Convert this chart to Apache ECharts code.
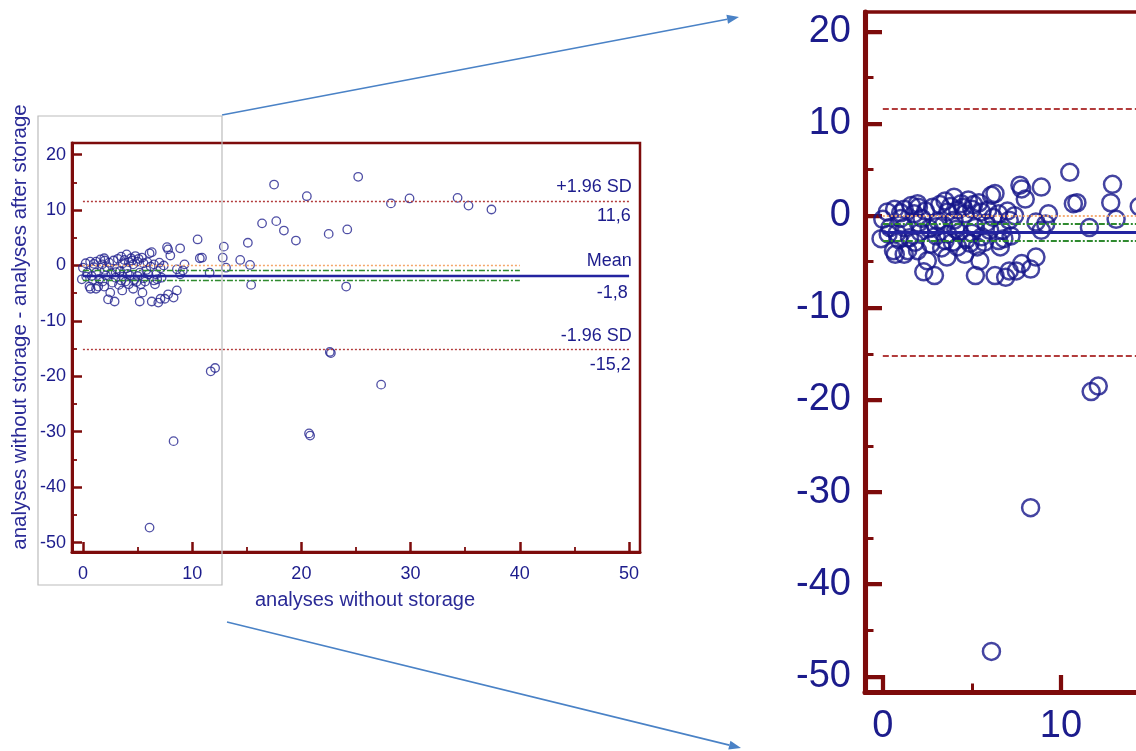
<!DOCTYPE html>
<html>
<head>
<meta charset="utf-8">
<script src="https://cdn.jsdelivr.net/npm/echarts@6/dist/echarts.min.js"></script>
<style>
html, body { margin: 0; padding: 0; background: #fff; }
#main { width: 1136px; height: 751px; }
</style>
</head>
<body>
<div id="main"></div>
<script>
// values (x = analyses without storage, y = difference)
var meanX = [-0.1, 0.0, 0.25, 0.4, 0.6, 0.66, 0.7, 0.8, 1.0, 1.2, 1.2, 1.2, 1.4, 1.6, 1.5, 1.76, 1.95, 1.95, 2.0, 2.1,
  2.3, 2.5, 2.4, 2.7, 2.9, 3.0, 3.1, 3.3, 3.5, 3.5, 3.65, 3.65, 3.6, 3.8, 4.0, 4.0, 4.1, 4.2, 4.4, 4.6,
  4.6, 4.7, 4.8, 5.0, 5.0, 5.2, 5.2, 5.3, 5.45, 5.4, 5.55, 5.55, 5.8, 6.0, 6.1, 6.3, 6.3, 6.5, 6.5, 6.6,
  6.7, 6.9, 7.1, 7.1, 7.2, 7.4, 7.5, 7.7, 7.8, 7.8, 8.0, 8.3, 8.6, 8.6, 8.9, 8.9, 9.15, 9.3,
  0.3, 0.9, 1.8, 2.2, 2.6, 2.8, 3.2, 3.4, 3.9, 4.3, 4.5, 4.9, 5.1, 5.7, 5.9, 6.2, 6.8, 7.0, 1.0, 2.0, 3.0, 4.2,
  10.5, 10.7, 10.9, 11.6, 12.8, 12.9, 13.1, 14.4, 15.1, 15.3, 15.4, 16.4, 17.5, 17.7, 18.4, 19.5, 20.5, 22.5,
  24.1, 24.2, 25.2, 28.2, 29.9, 34.3, 35.3, 37.4,
  6.1, 8.3, 11.7, 12.1, 20.7, 20.8, 22.6, 22.7, 27.3];
var diffY = [-2.5, -0.4, 0.4, -1.3, -3.8, 0.7, -4.2, -1.9, -0.3, 0.7, -1.3, -4.2, -3.8, 1.1, -2.4, 0.2, 1.3, -3.8, -0.8, -1.8,
  -6.1, -4.9, 0.5, -3.1, -6.5, -2.2, -0.6, -3.5, 1.6, -2.7, 0.4, -2.0, -4.5, 1.0, 2.0, -0.5, -1.5, -3.4, 1.3, 0.2,
  -4.2, -2.6, 1.7, 0.7, -1.9, -1.3, -6.5, -3.4, -4.9, 1.4, 0.4, -2.3, -0.8, -1.6, 2.2, 2.4, -6.5, 0.2, -2.7, -3.4,
  -1.6, -6.7, -0.5, -6.0, -2.2, 0.0, -6.0, 3.3, 2.9, -5.2, 1.8, -5.8, -0.7, -4.5, 3.1, -1.6, -0.9, 0.2,
  -2.0, -2.6, -2.9, -0.3, -1.4, 0.9, 1.2, -1.0, -2.9, -1.8, 0.9, -3.0, 1.2, -2.9, 0.6, -0.2, -2.5, 0.5, 0.3, 0.9, -1.2, 0.6,
  4.7, 1.3, 1.4, -1.3, 1.4, 3.4, -0.4, 1.0, 4.1, 0.1, -3.5, 7.6, 14.6, 8.0, 6.3, 4.5, 12.5, 5.7,
  -3.8, 6.5, 16.0, 11.2, 12.1, 12.2, 10.8, 10.1,
  -47.3, -31.7, -19.1, -18.5, -30.3, -30.7, -15.6, -15.8, -21.5];

var xTicks = [0, 10, 20, 30, 40, 50];
var xMinorTicks = [5, 15, 25, 35, 45];
var yTicks = [-50, -40, -30, -20, -10, 0, 10, 20];
var yMinorTicks = [-45, -35, -25, -15, -5, 5, 15];

var upperLimit = 11.6, meanDiff = -1.8, lowerLimit = -15.2;
var limitTitles = ['+1.96 SD', 'Mean', '-1.96 SD'];
var limitTexts = ['11,6', '-1,8', '-15,2'];
var meanCI = [-0.9, -2.7];
var equality = 0;
var limitSpan = [0, 50];
var labelSpan = [0, 50.7];
var ciSpan = [0, 40];

var xRange = [-1, 51];
var yRange = [-51.7, 22.1];

var red = '#7d0b0b';
var navy = '#1c1c8c';
var font = 'Liberation Sans, Arial, sans-serif';

var points = meanX.map(function (x, i) { return [x, diffY[i]]; });

function hLine(v, span, style, label) {
  var a = { coord: [span[0], v], lineStyle: style };
  if (label) a.label = label;
  return [a, { coord: [span[1], v] }];
}

function makeMarkLines(s, withLabels) {
  var lab = function (txt, pos, d) {
    return { show: withLabels, position: pos, formatter: txt, color: navy, fontSize: 18, fontFamily: font, distance: d };
  };
  var hidden = { color: 'rgba(0,0,0,0)', width: 0 };
  var sdStyle = { color: '#b23c3c', type: s > 1 ? [6, 3] : [2, 2], width: 1.4 * s };
  var lines = [
    hLine(equality, ciSpan, { color: '#f4a66a', type: [2, 2], width: 1.4 * s }),
    hLine(meanCI[0], ciSpan, { color: '#2f8a2f', type: [6, 2, 2, 2], width: 1.4 * s }),
    hLine(meanCI[1], ciSpan, { color: '#2f8a2f', type: [6, 2, 2, 2], width: 1.4 * s }),
    hLine(upperLimit, limitSpan, sdStyle),
    hLine(meanDiff, limitSpan, { color: '#2323a0', type: 'solid', width: 2.4 * s }),
    hLine(lowerLimit, limitSpan, sdStyle)
  ];
  if (withLabels) {
    [upperLimit, meanDiff, lowerLimit].forEach(function (v, i) {
      lines.push(hLine(v, labelSpan, hidden, lab(limitTitles[i], 'insideEndTop', 5)));
      lines.push(hLine(v, labelSpan, hidden, lab(limitTexts[i], 'insideEndBottom', i === 1 ? 9 : 6)));
    });
  }
  return lines;
}

function axisPair(dim, gi, s, fontSize, margin) {
  var range = dim === 'x' ? xRange : yRange;
  var major = dim === 'x' ? xTicks : yTicks;
  var minor = dim === 'x' ? xMinorTicks : yMinorTicks;
  var pos = dim === 'x' ? 'bottom' : 'left';
  return [{
    gridIndex: gi, type: 'value', position: pos, min: range[0], max: range[1],
    axisLine: { show: true, onZero: false, lineStyle: { color: red, width: 3 * s } },
    axisTick: { show: true, inside: true, length: 10 * s, customValues: major, lineStyle: { color: red, width: 2.5 * s } },
    axisLabel: { customValues: major, color: navy, fontSize: fontSize, fontFamily: font, margin: margin },
    splitLine: { show: false }
  }, {
    gridIndex: gi, type: 'value', position: pos, offset: 0, min: range[0], max: range[1],
    axisLine: { show: false, onZero: false },
    axisTick: { show: true, inside: true, length: 5 * s, customValues: minor, lineStyle: { color: red, width: 1.8 * s } },
    axisLabel: { show: false },
    splitLine: { show: false }
  }];
}

function arrow(x1, y1, x2, y2) {
  var ang = Math.atan2(y2 - y1, x2 - x1), L = 12, W = 4.5;
  var bx = x2 - L * Math.cos(ang), by = y2 - L * Math.sin(ang);
  var px = -Math.sin(ang) * W, py = Math.cos(ang) * W;
  return [
    { type: 'line', shape: { x1: x1, y1: y1, x2: bx, y2: by }, style: { stroke: '#4a82c6', lineWidth: 1.6 } },
    { type: 'polygon', shape: { points: [[x2, y2], [bx + px, by + py], [bx - px, by - py]] }, style: { fill: '#4a82c6' } }
  ];
}

var chart = echarts.init(document.getElementById('main'));
var option = {
  animation: false,
  backgroundColor: '#fff',
  grid: [
    { left: 72, top: 143, width: 568, height: 409, show: true, borderColor: red, borderWidth: 2.5, outerBoundsMode: 'none', containLabel: false },
    { left: 865, top: 12, width: 926, height: 680, show: true, borderColor: red, borderWidth: 3.5, outerBoundsMode: 'none', containLabel: false }
  ],
  xAxis: axisPair('x', 0, 1, 18, 13).concat(axisPair('x', 1, 1.7, 38, 16)),
  yAxis: axisPair('y', 0, 1, 18, 6).concat(axisPair('y', 1, 1.7, 38, 14)),
  series: [{
    type: 'scatter', xAxisIndex: 0, yAxisIndex: 0, data: points,
    symbol: 'circle', symbolSize: 8.5,
    itemStyle: { color: 'rgba(255,255,255,0)', borderColor: '#23238f', borderWidth: 1.3 },
    markLine: { silent: true, symbol: ['none', 'none'], data: makeMarkLines(1, true) },
    z: 3
  }, {
    type: 'scatter', xAxisIndex: 2, yAxisIndex: 2, data: points,
    symbol: 'circle', symbolSize: 17,
    itemStyle: { color: 'rgba(255,255,255,0)', borderColor: '#15158a', borderWidth: 2.5 },
    markLine: { silent: true, symbol: ['none', 'none'], data: makeMarkLines(1.3, false) },
    z: 3
  }],
  graphic: [
    { type: 'text', x: 20, y: 327, rotation: Math.PI / 2,
      style: { text: 'analyses without storage - analyses after storage', fill: '#2a2a96', font: '20.5px ' + font, align: 'center', verticalAlign: 'middle' } },
    { type: 'text', x: 365, y: 600,
      style: { text: 'analyses without storage', fill: '#2a2a96', font: '20px ' + font, align: 'center', verticalAlign: 'middle' } },
    { type: 'rect', shape: { x: 38, y: 116, width: 184, height: 469 }, style: { fill: 'none', stroke: '#bcbcbc', lineWidth: 1.2 }, z: 10 }
  ].concat(arrow(222, 115, 739, 17)).concat(arrow(227, 622, 741, 748))
};
chart.setOption(option);
</script>
</body>
</html>
